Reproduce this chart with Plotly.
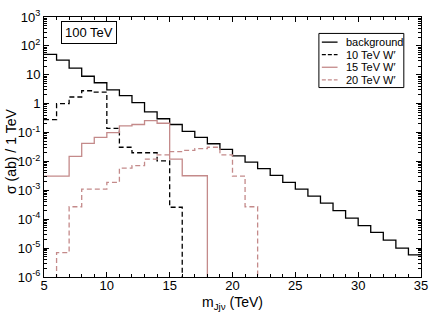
import plotly.graph_objects as go

# ---------------- data (1 TeV bins starting at 5 TeV) ----------------
bin_start = 5
background = [51, 32, 17, 8.9, 5.3, 3.0, 1.9, 1.08, 0.52, 0.30,
              0.19, 0.11, 0.068, 0.041, 0.026, 0.0156, 0.0094, 0.0056, 0.0033, 0.0019,
              0.0011, 6.3e-4, 3.6e-4, 2.0e-4, 1.1e-4, 6.0e-5, 3.5e-5, 1.9e-5, 1.0e-5, 5.8e-6]
wp10 = [0.28, 1.0, 1.7, 2.8, 2.5, 0.14, 0.031, 0.020, 0.020, 0.0105, 2.6e-4, 0]
wp15 = [0.0031, 0.0031, 0.015, 0.042, 0.068, 0.10, 0.17, 0.19, 0.26, 0.21,
        0.012, 0.0032, 0.0032, 0]
wp20 = [0, 7e-6, 2.7e-4, 1.1e-3, 1.1e-3, 1.9e-3, 5.9e-3, 7.2e-3, 0.012, 0.017,
        0.022, 0.024, 0.028, 0.031, 0.017, 0.0031, 2.7e-4, 0]

series_names = ["background", "10 TeV W\u2032", "15 TeV W\u2032", "20 TeV W\u2032"]
x_tick_vals = [5, 10, 15, 20, 25, 30, 35]
y_exps = [-6, -5, -4, -3, -2, -1, 0, 1, 2, 3]
y_tick_text = ["10<sup>-6</sup>", "10<sup>-5</sup>", "10<sup>-4</sup>", "10<sup>-3</sup>",
               "10<sup>-2</sup>", "10<sup>-1</sup>", "1", "10", "10<sup>2</sup>", "10<sup>3</sup>"]

# ---------------- styling ----------------
W, H = 436, 314
ML, MR, MT, MB = 44, 8, 8, 37
PW, PH = W - ML - MR, H - MT - MB
FONT = "Liberation Sans, Arial, sans-serif"
ROSE = "#c48a8a"


def px(x):
    return (x - ML) / PW


def py(y):
    return (H - MB - y) / PH


def step_xy(vals):
    xs = [bin_start + i for i in range(len(vals) + 1)]
    ys = [v if v > 0 else 1e-12 for v in vals]
    ys = ys + [ys[-1]]
    return xs, ys


styles = [
    dict(color="black", width=1.3, dash="solid"),
    dict(color="black", width=1.3, dash="5px,3px"),
    dict(color=ROSE, width=1.3, dash="solid"),
    dict(color=ROSE, width=1.3, dash="5px,3px"),
]

fig = go.Figure()
for vals, name, st in zip([background, wp10, wp15, wp20], series_names, styles):
    xs, ys = step_xy(vals)
    fig.add_trace(go.Scatter(x=xs, y=ys, mode="lines", line_shape="hv",
                             line=st, name=name, showlegend=False, hoverinfo="skip"))

minor_y = [m * 10 ** e for e in range(-6, 3) for m in range(2, 10)]

fig.update_xaxes(range=[5, 35], tickvals=x_tick_vals, ticks="inside", ticklen=5,
                 tickwidth=1, tickcolor="black", showline=True, linecolor="black",
                 linewidth=1, mirror="allticks", showgrid=False, zeroline=False,
                 ticklabelstandoff=-4,
                 tickfont=dict(family=FONT, size=13, color="black"),
                 minor=dict(dtick=1, ticks="inside", ticklen=3, tickcolor="black",
                            showgrid=False))
fig.update_yaxes(type="log", range=[-6, 3], tickvals=[10 ** e for e in y_exps],
                 ticktext=y_tick_text, ticks="inside", ticklen=5, tickwidth=1,
                 tickcolor="black", showline=True, linecolor="black", linewidth=1,
                 mirror="allticks", showgrid=False, zeroline=False,
                 tickfont=dict(family=FONT, size=13, color="black"),
                 minor=dict(tickvals=minor_y, ticks="inside", ticklen=3,
                            tickcolor="black", showgrid=False))

shapes = []
annotations = []

# "100 TeV" label box
annotations.append(dict(x=px(90), y=py(24.5), xref="paper", yref="paper", text="100 TeV",
                        showarrow=False, xanchor="center", yanchor="middle",
                        font=dict(family=FONT, size=13, color="black"),
                        bordercolor="black", borderwidth=1, borderpad=3,
                        bgcolor="white"))

# legend box
shapes.append(dict(type="rect", xref="paper", yref="paper", x0=px(324), x1=px(410.5),
                   y0=py(81), y1=py(25), line=dict(color="black", width=1),
                   fillcolor="white", layer="above"))
row_y = [34, 47, 60, 73]
for name, st, ry in zip(series_names, styles, row_y):
    shapes.append(dict(type="line", xref="paper", yref="paper", x0=px(327), x1=px(343),
                       y0=py(ry), y1=py(ry),
                       line=dict(color=st["color"], width=st["width"],
                                 dash="solid" if st["dash"] == "solid" else "4px,2px"),
                       layer="above"))
    annotations.append(dict(x=px(350), y=py(ry), xref="paper", yref="paper", text=name,
                            showarrow=False, xanchor="left", yanchor="middle",
                            font=dict(family=FONT, size=11, color="black")))

# axis titles
annotations.append(dict(x=px(236), y=py(304), xref="paper", yref="paper",
                        text="m<sub>Jj\u03bd</sub> (TeV)", showarrow=False,
                        xanchor="center", yanchor="middle",
                        font=dict(family=FONT, size=14, color="black")))
annotations.append(dict(x=px(11), y=py(147), xref="paper", yref="paper",
                        text="\u03c3 (ab) / 1 TeV", textangle=-90, showarrow=False,
                        xanchor="center", yanchor="middle",
                        font=dict(family=FONT, size=14, color="black")))

fig.update_layout(width=W, height=H, margin=dict(l=ML, r=MR, t=MT, b=MB),
                  paper_bgcolor="white", plot_bgcolor="white", showlegend=False,
                  shapes=shapes, annotations=annotations, hovermode=False,
                  font=dict(family=FONT, color="black"))

fig.write_html("out.html", config={"displayModeBar": False},
               post_script="document.body.style.margin='0';document.body.style.padding='0';document.body.style.overflow='hidden';")
